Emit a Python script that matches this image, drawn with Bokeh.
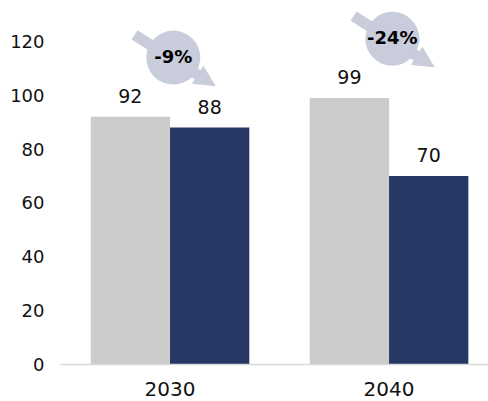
from bokeh.plotting import figure
from bokeh.models import Range1d, FixedTicker, ColumnDataSource, Arrow, NormalHead
from bokeh.core.properties import value
from bokeh.embed import file_html
from bokeh.resources import INLINE

# ---- data ----
categories = ["2030", "2040"]
reference_vals = [92, 99]
scenario_vals = [88, 70]
change_labels = ["-9%", "-24%"]
y_ticks = [0, 20, 40, 60, 80, 100, 120]

# ---- styles ----
GREY = "#cccccc"
NAVY = "#283864"
BADGE = "#c9ccda"
FONT = "DejaVu Sans"
BAR_W = 0.362
DODGE = 0.181

xc = [i + 0.5 for i in range(len(categories))]

p = figure(width=488, height=401, output_backend="svg", toolbar_location=None,
           x_range=Range1d(0.0, 1.954), y_range=Range1d(0, 135.2),
           min_border_left=60, min_border_right=0, min_border_top=0, min_border_bottom=37)
p.outline_line_color = None
p.xgrid.visible = False
p.ygrid.visible = False
p.background_fill_color = "white"
p.border_fill_color = "white"

src = ColumnDataSource(dict(
    xg=[x - DODGE for x in xc], xn=[x + DODGE for x in xc],
    ref=reference_vals, sce=scenario_vals,
    ref_t=[str(v) for v in reference_vals], sce_t=[str(v) for v in scenario_vals],
))

p.vbar(x="xg", top="ref", width=BAR_W, bottom=0, source=src, fill_color=GREY, line_color=None)
p.vbar(x="xn", top="sce", width=BAR_W, bottom=0, source=src, fill_color=NAVY, line_color=None)

common = dict(text_font=value(FONT), text_font_size="19px", text_color="#111111",
              text_align="center", text_baseline="alphabetic", y_offset=-21)
p.text(x="xg", y="ref", text="ref_t", source=src, **common)
p.text(x="xn", y="sce", text="sce_t", source=src, **common)

# change badges
bx = [x + 0.015 for x in xc]
by = [max(a, b) + 22 for a, b in zip(reference_vals, scenario_vals)]
for cx, cy in zip(bx, by):
    p.add_layout(Arrow(end=NormalHead(size=20, fill_color=BADGE, line_color=BADGE, line_width=1),
                       x_start=cx - 0.177, y_start=cy + 8.4,
                       x_end=cx + 0.19, y_end=cy - 10.4,
                       line_color=BADGE, line_width=11, level="underlay"))
bsrc = ColumnDataSource(dict(x=bx, y=by, t=change_labels))
p.scatter(x="x", y="y", size=54, source=bsrc, fill_color=BADGE, line_color=None)
p.text(x="x", y="y", text="t", source=bsrc, text_font=value(FONT), text_font_size="18px",
       text_font_style="bold", text_color="#000000", text_align="center", text_baseline="middle",
       y_offset=-1)

# axes
p.xaxis.ticker = FixedTicker(ticks=xc)
p.xaxis.major_label_overrides = {x: c for x, c in zip(xc, categories)}
p.xaxis.axis_line_color = "#d9d9d9"
p.xaxis.axis_line_width = 1.5
p.xaxis.major_tick_line_color = None
p.xaxis.minor_tick_line_color = None
p.xaxis.major_tick_out = 0
p.xaxis.major_label_standoff = 17
p.xaxis.major_label_text_font = FONT
p.xaxis.major_label_text_font_size = "20px"
p.xaxis.major_label_text_color = "#111111"

p.yaxis.ticker = FixedTicker(ticks=y_ticks)
p.yaxis.axis_line_color = None
p.yaxis.major_tick_line_color = None
p.yaxis.minor_tick_line_color = None
p.yaxis.major_tick_out = 0
p.yaxis.major_label_standoff = 16
p.yaxis.major_label_text_font = FONT
p.yaxis.major_label_text_font_size = "18px"
p.yaxis.major_label_text_color = "#111111"

open("out.html", "w").write(file_html(p, INLINE))
